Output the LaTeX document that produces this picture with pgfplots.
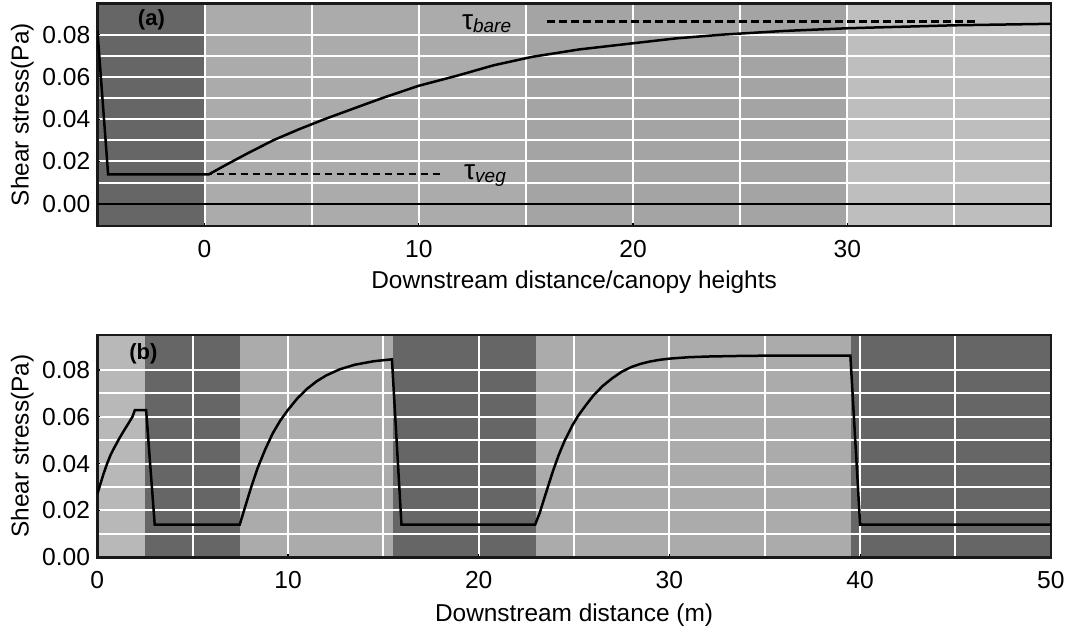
\documentclass[border=0pt]{standalone}
\usepackage{fontspec}
\setmainfont{Liberation Sans}
\usepackage{pgfplots}
\pgfplotsset{compat=1.18}

% shading of the canopy / bare-bed patches
\definecolor{vegdark}{HTML}{666666}
\definecolor{baremid}{HTML}{ABABAB}
\definecolor{baremidB}{HTML}{A4A4A4}
\definecolor{barelight}{HTML}{BEBEBE}
\definecolor{barelightB}{HTML}{B8B8B8}

\pgfplotsset{
  panel/.style={
    set layers,
    scale only axis,
    anchor=north west,
    axis line style={draw=black!90, line width=1.3pt},
    tick pos=left,
    tick align=inside,
    major tick length=1.5pt,
    minor tick length=0pt,
    tick style={black, line width=0.6pt},
    grid=both,
    major grid style={white, line width=1pt},
    minor grid style={white, line width=1pt},
    scaled y ticks=false,
    /pgf/number format/assume math mode=true,
    ticklabel style={font=\fontsize{12.3}{14}\selectfont},
    xticklabel style={inner sep=0pt, anchor=base, yshift=-15.6pt},
    yticklabel style={inner sep=0pt, anchor=east, xshift=-3.4pt},
    y tick label style={/pgf/number format/.cd, fixed, fixed zerofill, precision=2},
    ytick={0,0.02,0.04,0.06,0.08},
    minor ytick={0.01,0.03,0.05,0.07},
    label style={font=\fontsize{12.2}{14}\selectfont},
    ylabel={Shear stress(Pa)},
    ylabel style={at={(axis description cs:-0.0787,0.5)}, anchor=center},
  },
  band/.style={draw=none, fill=#1, on layer=axis background, forget plot},
  stress/.style={black, line width=1.25pt, forget plot},
  ref level/.style={black, line width=1.1pt, dash pattern=on 3.8pt off 2.2pt, forget plot},
}

\begin{document}
\begin{tikzpicture}
\path (0,0) rectangle (534.5pt,-318pt);

% (a) single canopy edge, distance in canopy heights
\begin{axis}[panel,
  at={(48.7pt,-1.65pt)}, width=476.7pt, height=111.35pt,
  xmin=-5, xmax=39.5, ymin=-0.0105, ymax=0.0948,
  xtick={0,10,20,30}, minor xtick={-5,5,15,25,35},
  xlabel={Downstream distance/canopy heights},
  xlabel style={at={(axis description cs:0.5,-0.28)}, anchor=base},
]
\addplot[band=vegdark]    coordinates {(-5,-0.0105) (0,-0.0105) (0,0.0948) (-5,0.0948)};
\addplot[band=baremid]    coordinates {(0,-0.0105) (15,-0.0105) (15,0.0948) (0,0.0948)};
\addplot[band=baremidB]   coordinates {(15,-0.0105) (30,-0.0105) (30,0.0948) (15,0.0948)};
\addplot[band=barelight]  coordinates {(30,-0.0105) (39.5,-0.0105) (39.5,0.0948) (30,0.0948)};

\addplot[black, line width=0.9pt, forget plot] coordinates {(-5,0) (39.5,0)};

\addplot[ref level] coordinates {(0,0.0139) (11.1,0.0139)};
\addplot[ref level] coordinates {(16,0.0862) (36,0.0862)};

\addplot[stress] coordinates {
  (-5,0.0820) (-4.5,0.0139) (0.2,0.0139) (1.0,0.0184) (2.0,0.0238)
  (3.2,0.0300) (4.4,0.0352) (5.6,0.0400) (7.0,0.0452) (8.3,0.0500)
  (10.0,0.0558) (11.8,0.0606) (13.5,0.0655) (15.3,0.0695) (17.5,0.0730)
  (20.0,0.0759) (22.0,0.0782) (24.2,0.0800) (27.0,0.0817) (30.0,0.0830)
  (35.0,0.0844) (39.5,0.0851)
};

\node[font=\bfseries\fontsize{11}{13}\selectfont] at (axis cs:-2.48,0.087) {(a)};
\node[anchor=base west, inner sep=0pt, font=\fontsize{14}{16}\selectfont]
  at (axis cs:12.0,0.0822) {τ{\fontsize{9.5}{11}\selectfont\itshape\raisebox{-1.3pt}{bare}}};
\node[anchor=base west, inner sep=0pt, font=\fontsize{14}{16}\selectfont]
  at (axis cs:12.1,0.0113) {τ{\fontsize{9.5}{11}\selectfont\itshape\raisebox{-1.3pt}{veg}}};
\end{axis}

% (b) alternating vegetated and bare patches, distance in metres
\begin{axis}[panel,
  at={(48.65pt,-167.5pt)}, width=476.75pt, height=111.15pt,
  xmin=0, xmax=50, ymin=0, ymax=0.095,
  xtick={0,10,20,30,40,50}, minor xtick={5,15,25,35,45},
  xlabel={Downstream distance (m)},
  xlabel style={at={(axis description cs:0.5,-0.29)}, anchor=base},
]
\addplot[band=barelightB] coordinates {(0,0) (2.5,0) (2.5,0.095) (0,0.095)};
\addplot[band=vegdark]    coordinates {(2.5,0) (7.5,0) (7.5,0.095) (2.5,0.095)};
\addplot[band=baremid]    coordinates {(7.5,0) (15.5,0) (15.5,0.095) (7.5,0.095)};
\addplot[band=vegdark]    coordinates {(15.5,0) (23,0) (23,0.095) (15.5,0.095)};
\addplot[band=baremid]    coordinates {(23,0) (39.5,0) (39.5,0.095) (23,0.095)};
\addplot[band=vegdark]    coordinates {(39.5,0) (50,0) (50,0.095) (39.5,0.095)};

\addplot[stress] coordinates {
  (0,0.0270) (0.15,0.0310) (0.32,0.0355) (0.49,0.0395) (0.7,0.0438)
  (0.9,0.0470) (1.12,0.0503) (1.35,0.0535) (1.6,0.0568) (1.84,0.0600)
  (1.97,0.0629) (2.56,0.0629) (3.01,0.0140)
  (7.47,0.0140) (7.75,0.0215) (8.05,0.0295) (8.4,0.0380) (8.8,0.0460)
  (9.2,0.0530) (9.6,0.0585) (10.0,0.0630) (10.5,0.0680) (11.0,0.0720)
  (11.5,0.0752) (12.0,0.0777) (12.7,0.0803) (13.5,0.0823) (14.5,0.0838)
  (15.45,0.0846) (15.95,0.0140)
  (22.96,0.0140) (23.2,0.0190) (23.5,0.0268) (23.9,0.0370) (24.2,0.0438)
  (24.5,0.0497) (24.9,0.0562) (25.2,0.0603) (25.6,0.0648) (26.0,0.0690)
  (26.5,0.0732) (27.0,0.0765) (27.5,0.0793) (28.0,0.0813) (28.5,0.0827)
  (29.0,0.0837) (29.5,0.0844) (30.0,0.0849) (31.0,0.0855) (32.0,0.0858)
  (34.0,0.0861) (36.0,0.0862) (39.49,0.0862) (40.0,0.0140) (50,0.0140)
};

\node[font=\bfseries\fontsize{11}{13}\selectfont] at (axis cs:2.42,0.0871) {(b)};
\end{axis}
\end{tikzpicture}
\end{document}
